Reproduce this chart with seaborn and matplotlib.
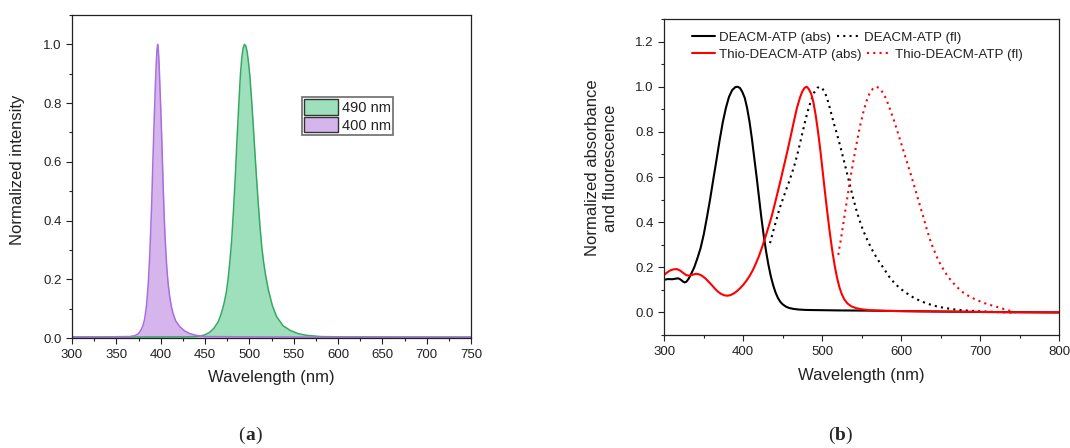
import numpy as np
import pandas as pd
import matplotlib
matplotlib.use("Agg")
import matplotlib.pyplot as plt
from matplotlib.ticker import MultipleLocator, FormatStrFormatter
from matplotlib.patches import Patch
from matplotlib.lines import Line2D
import seaborn as sns

# ---------------- panel (a): LED emission spectra ----------------
led400_wl = [300, 340, 365, 371, 375, 378, 380, 382, 384, 386, 387.5, 389, 390, 391, 392, 393,
             394, 395, 395.8, 396.6, 397.4, 398.2, 399, 400, 401, 402, 403, 404, 405, 406, 407,
             408.4, 410, 412, 414, 417, 421.8, 427, 433, 440, 450, 500, 600, 750]
led400_int = [0.004, 0.004, 0.005, 0.008, 0.015, 0.028, 0.042, 0.066, 0.11, 0.186, 0.27, 0.385,
              0.47, 0.58, 0.68, 0.77, 0.86, 0.935, 0.98, 1.0, 0.98, 0.935, 0.87, 0.79, 0.70,
              0.60, 0.50, 0.41, 0.34, 0.285, 0.235, 0.186, 0.145, 0.108, 0.083, 0.058, 0.038,
              0.024, 0.015, 0.009, 0.005, 0.004, 0.003, 0.003]

led490_wl = [300, 430, 440, 445, 450, 455, 460, 465, 468, 471, 474, 476, 478, 480, 482, 484, 486,
             488, 490, 491.5, 493, 494.5, 496, 497.5, 499, 500.5, 502, 504, 506, 508, 510, 512,
             514, 516, 518, 521.5, 526, 530.9, 538, 546, 555, 564.7, 580, 600, 750]
led490_int = [0.003, 0.004, 0.005, 0.007, 0.011, 0.019, 0.033, 0.056, 0.080, 0.112, 0.155, 0.20,
              0.26, 0.33, 0.43, 0.54, 0.67, 0.79, 0.90, 0.955, 0.988, 1.0, 0.995, 0.975, 0.94,
              0.895, 0.835, 0.745, 0.645, 0.55, 0.46, 0.38, 0.311, 0.26, 0.22, 0.163, 0.11,
              0.072, 0.042, 0.026, 0.015, 0.009, 0.005, 0.004, 0.003]

led_labels = ["490 nm", "400 nm"]

# ---------------- panel (b): absorbance / fluorescence ----------------
deacm_abs_wl = [300, 305, 310, 315, 318, 321, 324, 326, 328, 331, 334, 338, 342, 346, 350, 354,
                358, 362, 366, 370, 374, 378, 382, 386, 390, 393, 396, 399, 402, 405, 408, 411,
                414, 417, 420, 423, 426, 429, 432, 435, 438, 441, 444, 447, 450, 454, 458, 463,
                470, 480, 520, 560, 600, 650, 700, 750, 800]
deacm_abs = [0.145, 0.148, 0.147, 0.150, 0.151, 0.145, 0.136, 0.133, 0.136, 0.150, 0.170, 0.20,
             0.24, 0.285, 0.345, 0.42, 0.50, 0.587, 0.672, 0.76, 0.84, 0.905, 0.955, 0.985,
             0.998, 1.0, 0.994, 0.976, 0.95, 0.905, 0.845, 0.77, 0.685, 0.60, 0.51, 0.42, 0.34,
             0.27, 0.21, 0.16, 0.12, 0.088, 0.064, 0.047, 0.036, 0.026, 0.020, 0.016, 0.013,
             0.011, 0.009, 0.008, 0.006, 0.004, 0.002, 0.001, 0.0]

deacm_fl_wl = [434, 438, 442, 446, 450, 454, 458, 462, 466, 470, 474, 478, 482, 486, 490, 494,
               497, 500, 503, 506, 509, 512, 515, 518, 521, 524, 527, 530, 533, 536, 539, 543,
               547, 551, 556, 561, 566, 572, 578, 585, 592, 600, 608, 616, 625, 635, 645, 655,
               666, 680, 700, 720, 742]
deacm_fl = [0.307, 0.36, 0.41, 0.46, 0.50, 0.54, 0.578, 0.62, 0.665, 0.72, 0.78, 0.84, 0.895,
            0.94, 0.975, 0.995, 1.0, 0.993, 0.978, 0.952, 0.915, 0.875, 0.835, 0.80, 0.762,
            0.722, 0.68, 0.638, 0.595, 0.553, 0.51, 0.458, 0.412, 0.372, 0.33, 0.293, 0.26,
            0.226, 0.195, 0.158, 0.128, 0.103, 0.083, 0.065, 0.05, 0.037, 0.027, 0.02, 0.014,
            0.009, 0.005, 0.002, 0.0]

thio_abs_wl = [300, 304, 308, 312, 316, 320, 324, 328, 332, 336, 340, 344, 348, 352, 356, 360,
               364, 368, 372, 376, 380, 384, 388, 392, 396, 400, 404, 408, 412, 416, 420, 424,
               428, 432, 436, 440, 444, 448, 452, 456, 460, 464, 468, 472, 475, 478, 480.5, 483,
               486, 489, 492, 495, 498, 501, 504, 507, 510, 513, 516, 519, 522, 525, 528, 532,
               537, 543, 550, 560, 580, 620, 680, 740, 800]
thio_abs = [0.167, 0.178, 0.187, 0.191, 0.192, 0.186, 0.175, 0.165, 0.163, 0.167, 0.171, 0.169,
            0.162, 0.151, 0.137, 0.122, 0.106, 0.092, 0.082, 0.076, 0.074, 0.077, 0.084, 0.094,
            0.107, 0.122, 0.14, 0.161, 0.186, 0.216, 0.25, 0.29, 0.333, 0.378, 0.425, 0.48,
            0.537, 0.595, 0.655, 0.715, 0.778, 0.843, 0.905, 0.953, 0.98, 0.996, 1.0, 0.99,
            0.97, 0.93, 0.87, 0.795, 0.71, 0.615, 0.52, 0.43, 0.345, 0.27, 0.205, 0.152, 0.11,
            0.08, 0.058, 0.04, 0.027, 0.019, 0.014, 0.01, 0.007, 0.005, 0.003, 0.001, 0.0]

thio_fl_wl = [520.4, 524, 528, 532, 536, 540, 544, 548, 552, 556, 560, 564, 568, 572, 576, 580,
              584, 588, 592, 596, 600, 604, 608, 612, 616, 620, 624, 628, 632, 636, 640, 645,
              650, 656, 662, 670, 678, 686, 694, 702, 710, 718, 726, 733, 739, 745]
thio_fl = [0.255, 0.33, 0.42, 0.51, 0.60, 0.68, 0.755, 0.825, 0.885, 0.935, 0.97, 0.99, 1.0,
           0.995, 0.978, 0.953, 0.92, 0.88, 0.84, 0.795, 0.75, 0.705, 0.66, 0.615, 0.568, 0.52,
           0.472, 0.425, 0.375, 0.33, 0.29, 0.248, 0.212, 0.177, 0.147, 0.115, 0.09, 0.072,
           0.058, 0.046, 0.036, 0.028, 0.02, 0.012, 0.006, 0.0]

series_labels = ["DEACM-ATP (abs)", "DEACM-ATP (fl)", "Thio-DEACM-ATP (abs)", "Thio-DEACM-ATP (fl)"]

# ---------------- styling ----------------
sns.set_style("ticks")
plt.rcParams["font.family"] = ["Liberation Sans", "DejaVu Sans"]
plt.rcParams["axes.linewidth"] = 0.9
plt.rcParams["axes.edgecolor"] = "#222222"

GREEN_FILL, GREEN_LINE = "#9de0bb", "#37a864"
PURPLE_FILL, PURPLE_LINE = "#d5b5ec", "#a86edd"
TEXT = "#222222"

fig = plt.figure(figsize=(10.7, 4.48), dpi=100)
ax_a = fig.add_axes([0.0673, 0.2455, 0.3729, 0.7210])
ax_b = fig.add_axes([0.6208, 0.2522, 0.3689, 0.7054])


def style_axes(ax):
    for s in ax.spines.values():
        s.set_visible(True)
        s.set_linewidth(0.9)
        s.set_color(TEXT)
    ax.tick_params(which="major", direction="out", length=4, width=0.8, colors=TEXT,
                   labelsize=9.5, pad=4, top=False, right=False)
    ax.tick_params(which="minor", direction="out", length=2.5, width=0.8, colors=TEXT,
                   top=False, right=False)
    ax.tick_params(axis="y", pad=3.5)


# ---- panel (a)
df490 = pd.DataFrame({"wl": led490_wl, "I": led490_int})
df400 = pd.DataFrame({"wl": led400_wl, "I": led400_int})
ax_a.fill_between(df490["wl"], 0, df490["I"], color=GREEN_FILL, lw=0)
sns.lineplot(data=df490, x="wl", y="I", ax=ax_a, color=GREEN_LINE, lw=1.1,
             sort=False, estimator=None)
ax_a.fill_between(df400["wl"], 0, df400["I"], color=PURPLE_FILL, lw=0)
sns.lineplot(data=df400, x="wl", y="I", ax=ax_a, color=PURPLE_LINE, lw=1.1,
             sort=False, estimator=None)

ax_a.set_xlim(300, 750)
ax_a.set_ylim(0, 1.1)
ax_a.xaxis.set_major_locator(MultipleLocator(50))
ax_a.xaxis.set_minor_locator(MultipleLocator(25))
ax_a.yaxis.set_major_locator(MultipleLocator(0.2))
ax_a.yaxis.set_minor_locator(MultipleLocator(0.1))
ax_a.yaxis.set_major_formatter(FormatStrFormatter("%.1f"))
style_axes(ax_a)
ax_a.set_xlabel("Wavelength (nm)", fontsize=12, color=TEXT)
ax_a.set_ylabel("Normalized intensity", fontsize=12, color=TEXT)
ax_a.xaxis.set_label_coords(0.5, -0.100)
ax_a.yaxis.set_label_coords(-0.117, 0.52)

leg_a = ax_a.legend(
    handles=[Patch(facecolor=GREEN_FILL, edgecolor="#333333", lw=1.0),
             Patch(facecolor=PURPLE_FILL, edgecolor="#333333", lw=1.0)],
    labels=led_labels, loc="upper left", bbox_to_anchor=(0.577, 0.746),
    fontsize=10.5, handlelength=2.3, handleheight=1.25, handletextpad=0.25,
    labelspacing=0.14, borderpad=0.15, borderaxespad=0, frameon=True, fancybox=False)
leg_a.get_frame().set_edgecolor("#555555")
leg_a.get_frame().set_linewidth(1.3)
for t in leg_a.get_texts():
    t.set_color(TEXT)

# ---- panel (b)
curves = [
    (deacm_abs_wl, deacm_abs, "black", "-"),
    (deacm_fl_wl, deacm_fl, "black", (0, (1, 2))),
    (thio_abs_wl, thio_abs, "#ff0000", "-"),
    (thio_fl_wl, thio_fl, "#ff0000", (0, (1, 2))),
]
for (x, y, c, ls), lab in zip(curves, series_labels):
    sns.lineplot(x=x, y=y, ax=ax_b, color=c, lw=1.5, linestyle=ls,
                 sort=False, estimator=None, label=lab, legend=False)

ax_b.set_xlim(300, 800)
ax_b.set_ylim(-0.1, 1.3)
ax_b.xaxis.set_major_locator(MultipleLocator(100))
ax_b.xaxis.set_minor_locator(MultipleLocator(50))
ax_b.yaxis.set_minor_locator(MultipleLocator(0.1))
ax_b.set_yticks([0.0, 0.2, 0.4, 0.6, 0.8, 1.0, 1.2])
ax_b.yaxis.set_major_formatter(FormatStrFormatter("%.1f"))
style_axes(ax_b)
ax_b.set_xlabel("Wavelength (nm)", fontsize=12, color=TEXT)
ax_b.set_ylabel("Normalized absorbance\nand fluorescence", fontsize=12, color=TEXT,
                linespacing=1.25)
ax_b.xaxis.set_label_coords(0.5, -0.104)
ax_b.yaxis.set_label_coords(-0.117, 0.528)

# two-row legend, each row laid out on its own
handles_b = [Line2D([], [], color=c, lw=1.5, linestyle=ls) for (_, _, c, ls) in curves]
row_kw = dict(ncol=2, fontsize=9.6, handlelength=1.75, handletextpad=0.3, columnspacing=0.4,
              borderpad=0, borderaxespad=0, frameon=False, loc="center left")
leg_r1 = ax_b.legend(handles_b[:2], series_labels[:2], bbox_to_anchor=(0.070, 0.941), **row_kw)
ax_b.add_artist(leg_r1)
leg_r2 = ax_b.legend(handles_b[2:], series_labels[2:], bbox_to_anchor=(0.070, 0.888), **row_kw)
for lg in (leg_r1, leg_r2):
    for t in lg.get_texts():
        t.set_color(TEXT)

# ---- panel letters
for xc, letter in [(250 / 1070, "a"), (840 / 1070, "b")]:
    yc = 1 - 435 / 448
    half = 5.5 / 1070
    fig.text(xc, yc, letter, fontsize=14, fontweight="bold", family="Liberation Serif",
             ha="center", va="center")
    fig.text(xc - half, yc, "(", fontsize=14, family="Liberation Serif", ha="right", va="center")
    fig.text(xc + half, yc, ")", fontsize=14, family="Liberation Serif", ha="left", va="center")

fig.savefig("out.png", dpi=100, facecolor="white")
